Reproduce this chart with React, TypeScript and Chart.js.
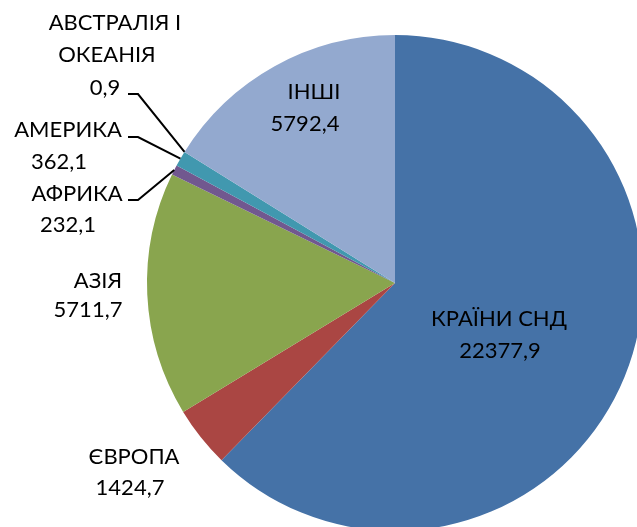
import React, { useEffect, useRef } from "react";
import { Chart, registerables } from "chart.js";

Chart.register(...registerables);

const categories = [
  "КРАЇНИ СНД",
  "ЄВРОПА",
  "АЗІЯ",
  "АФРИКА",
  "АМЕРИКА",
  "АВСТРАЛІЯ І\nОКЕАНІЯ",
  "ІНШІ",
];
const values = [22377.9, 1424.7, 5711.7, 232.1, 362.1, 0.9, 5792.4];
const colors = ["#4572A7", "#AA4643", "#89A54E", "#71588F", "#4198AF", "#DB843D", "#93A9CF"];

// label line anchors: [centerX, baseline] per text line; leader start (x, y) if any
const labelLayout: { lines: [number, number][]; leader?: [number, number] }[] = [
  { lines: [[499, 326], [500, 358]] },
  { lines: [[134, 464], [130, 495]] },
  { lines: [[98, 288], [88, 317]] },
  { lines: [[77, 201], [68, 232]], leader: [128, 200] },
  { lines: [[68, 137], [59, 169]], leader: [128, 137] },
  { lines: [[115, 30], [107, 62], [105, 95]], leader: [128, 94] },
  { lines: [[314, 99], [305, 131]] },
];

const FONT = "22px Lato";
const XSCALE = 1.0;

const labelPlugin = {
  id: "pieLabels",
  afterDatasetsDraw(chart: any) {
    const ctx = chart.ctx;
    const meta = chart.getDatasetMeta(0);
    ctx.save();
    ctx.font = FONT;
    ctx.fillStyle = "#000";
    ctx.textAlign = "center";
    ctx.textBaseline = "alphabetic";
    meta.data.forEach((arc: any, i: number) => {
      const lay = labelLayout[i];
      const textLines = [...categories[i].split("\n"), values[i].toFixed(1).replace(".", ",")];
      textLines.forEach((t, j) => {
        const [x, y] = lay.lines[j];
        ctx.save();
        ctx.translate(x, y);
        ctx.scale(XSCALE, 1);
        ctx.fillText(t, 0, 0);
        ctx.restore();
      });
      if (lay.leader) {
        const mid = (arc.startAngle + arc.endAngle) / 2;
        const ex = arc.x + Math.cos(mid) * arc.outerRadius;
        const ey = arc.y + Math.sin(mid) * arc.outerRadius;
        const [sx, sy] = lay.leader;
        ctx.beginPath();
        ctx.strokeStyle = "#000";
        ctx.lineWidth = 2;
        ctx.moveTo(sx, sy);
        ctx.lineTo(sx + 10, sy);
        ctx.lineTo(ex, ey);
        ctx.stroke();
      }
    });
    ctx.restore();
  },
};

export default function App() {
  const ref = useRef<HTMLCanvasElement>(null);
  useEffect(() => {
    if (!ref.current) return;
    const chart = new Chart(ref.current, {
      type: "pie",
      data: {
        labels: categories,
        datasets: [
          {
            data: values,
            backgroundColor: colors,
            borderWidth: 0,
          },
        ],
      },
      options: {
        animation: false,
        responsive: false,
        devicePixelRatio: 1,
        layout: { padding: { left: 147, right: 147, top: 35, bottom: 35 } },
        plugins: {
          legend: { display: false },
          tooltip: { enabled: false },
        },
      },
      plugins: [labelPlugin],
    });
    return () => chart.destroy();
  }, []);
  return (
    <div
      style={{
        position: "fixed",
        left: 0,
        top: 0,
        width: 637,
        height: 527,
        overflow: "hidden",
        background: "#fff",
      }}
    >
      <canvas ref={ref} width={790} height={566} style={{ display: "block" }} />
    </div>
  );
}
